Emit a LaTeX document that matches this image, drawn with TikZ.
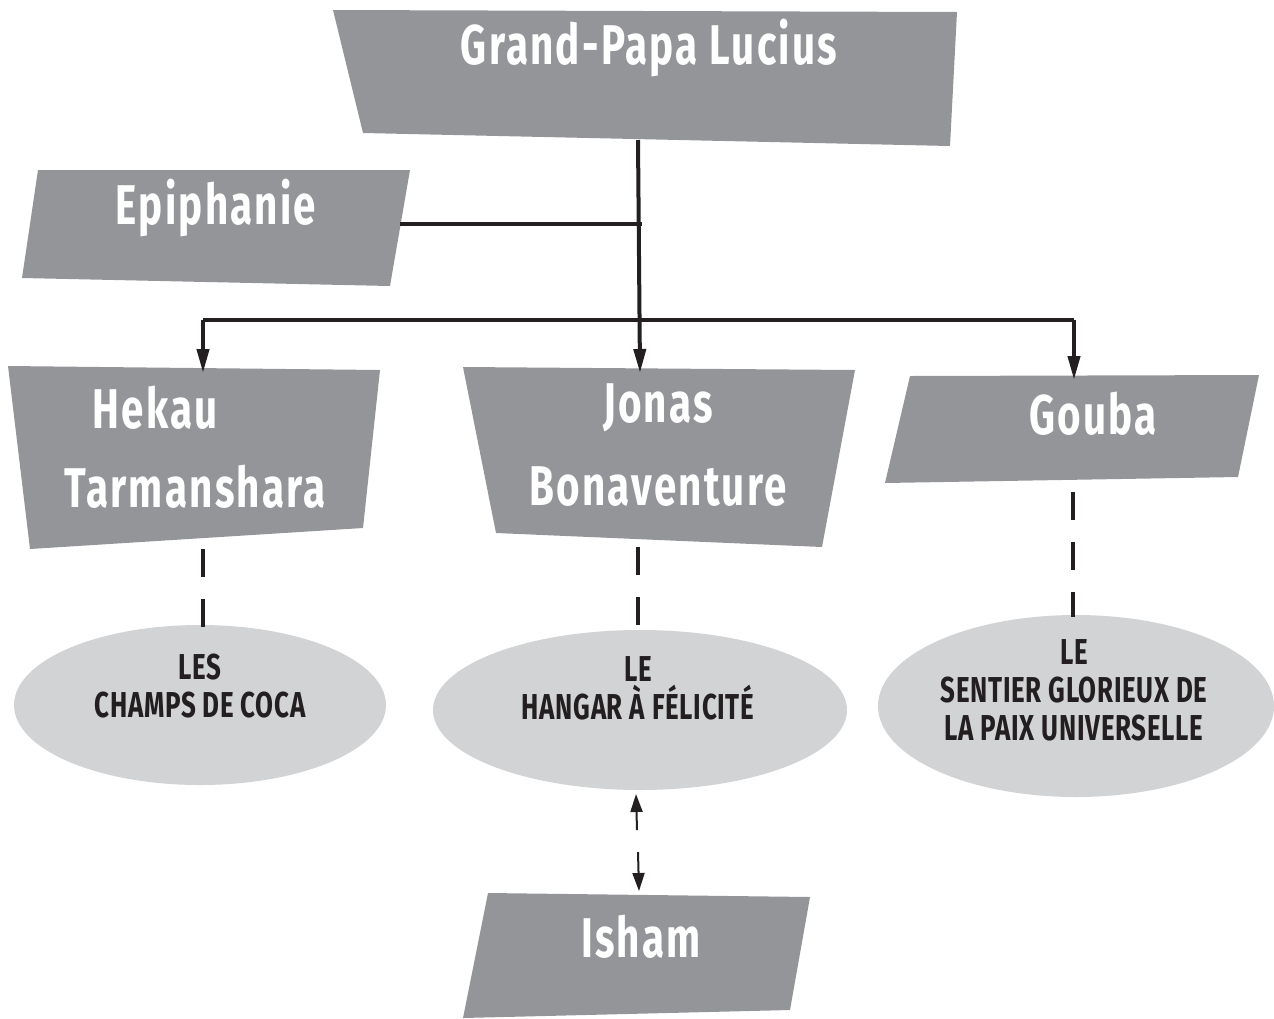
\documentclass[tikz,border=0pt]{standalone}
\usepackage{fontspec}
\setmainfont{Fira Sans}[FakeStretch=0.72]
\newfontfamily\titlefont{Fira Sans}[FakeStretch=0.72,LetterSpace=4]
\newfontfamily\ellfont{Fira Sans}[FakeStretch=0.72,LetterSpace=2]
\usetikzlibrary{arrows.meta,shapes.geometric}
\definecolor{boxgray}{HTML}{939598}
\definecolor{ellgray}{HTML}{D1D3D4}
\definecolor{linek}{HTML}{231F20}
\tikzset{
  boxfill/.style={fill=boxgray},
  ellfill/.style={fill=ellgray},
  title/.style={text=white,font=\titlefont\fontsize{28}{34}\selectfont\bfseries,align=center,inner sep=0pt},
  ltitle/.style={text=linek,font=\ellfont\fontsize{18}{19}\selectfont\bfseries,align=center,inner sep=0pt},
  conn/.style={draw=linek,line width=2pt},
  bigarrow/.style={conn,-{Triangle[length=12pt,width=6pt]}},
  dashconn/.style={draw=linek,line width=2pt,dash pattern=on 14pt off 11pt},
  thinarrow/.style={draw=linek,line width=1pt,-{Triangle[length=9pt,width=6pt]}}
}
\begin{document}
\begin{tikzpicture}[x=0.5pt,y=-0.5pt]
\useasboundingbox (0,0) rectangle (1274,1018);
% boxes
\fill[boxfill] (333,10) -- (957,12) -- (950,146) -- (363,133) -- cycle;
\node[title] (gp) at (649,48) {Grand-Papa Lucius};
\fill[boxfill] (38,170) -- (410,170) -- (390,286) -- (22,278) -- cycle;
\node[title] (ep) at (216,208) {Epiphanie};
\fill[boxfill] (8,366) -- (380,370) -- (363,528) -- (30,549) -- cycle;
\node[title] (hk1) at (155,408) {Hekau};
\node[title] (hk2) at (195,487) {Tarmanshara};
\fill[boxfill] (463,367) -- (855,370) -- (822,547) -- (496,533) -- cycle;
\node[title] (jb1) at (658,408) {Jonas};
\node[title] (jb2) at (658,487) {Bonaventure};
\fill[boxfill] (910,376) -- (1259,375) -- (1238,477) -- (885,483) -- cycle;
\node[title] (gb) at (1093,414) {Gouba};
\fill[boxfill] (488,893) -- (810,897) -- (790,1010) -- (463,1018) -- cycle;
\node[title] (ish) at (641,937) {Isham};
% ellipses
\fill[ellfill] (200,705) ellipse [x radius=186, y radius=80];
\node[ltitle] (e1) at (200,686) {LES\\[0pt]CHAMPS DE COCA};
\fill[ellfill] (640,710) ellipse [x radius=207, y radius=80];
\node[ltitle] (e2) at (638,688) {LE\\[0pt]HANGAR À FÉLICITÉ};
\fill[ellfill] (1076,706) ellipse [x radius=198, y radius=91];
\node[ltitle] (e3) at (1074,690) {LE\\[0pt]SENTIER GLORIEUX DE\\[0pt]LA PAIX UNIVERSELLE};
% coordinates
\coordinate (gpb) at (638,140);
\coordinate (epr) at (400,224);
\coordinate (epj) at (642,224);
\coordinate (jt) at (640,373);
\coordinate (hl) at (203,320);
\coordinate (hr) at (1074,320);
\coordinate (ht) at (203,373);
\coordinate (gt) at (1074,380);
\coordinate (hb) at (203,549);
\coordinate (e1t) at (203,628);
\coordinate (jbb) at (638,547);
\coordinate (e2t) at (638,631);
\coordinate (gbb) at (1073,492);
\coordinate (e3t) at (1073,617);
\coordinate (u1) at (637,830);
\coordinate (u2) at (636,794);
\coordinate (d1) at (638,852);
\coordinate (d2) at (639,891);
% connectors
\draw[bigarrow] (gpb) -- (jt);
\draw[conn] (epr) -- (epj);
\draw[conn] (hl) -- (hr);
\draw[bigarrow] (hl) -- (ht);
\draw[bigarrow] (hr) -- (gt);
\draw[dashconn] (hb) -- (e1t);
\draw[dashconn] (jbb) -- (e2t);
\draw[dashconn] (gbb) -- (e3t);
\draw[thinarrow] (u1) -- (u2);
\draw[thinarrow] (d1) -- (d2);
\end{tikzpicture}
\end{document}
